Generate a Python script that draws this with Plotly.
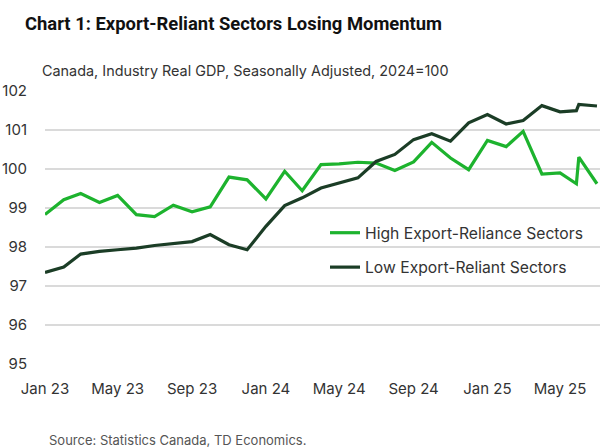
import plotly.graph_objects as go

# Monthly dates (plus one extra late-May observation visible in the chart)
dates = [
    "2023-01-01", "2023-02-01", "2023-03-01", "2023-04-01", "2023-05-01", "2023-06-01",
    "2023-07-01", "2023-08-01", "2023-09-01", "2023-10-01", "2023-11-01", "2023-12-01",
    "2024-01-01", "2024-02-01", "2024-03-01", "2024-04-01", "2024-05-01", "2024-06-01",
    "2024-07-01", "2024-08-01", "2024-09-01", "2024-10-01", "2024-11-01", "2024-12-01",
    "2025-01-01", "2025-02-01", "2025-03-01", "2025-04-01", "2025-05-01", "2025-05-28",
    "2025-06-01", "2025-07-01",
]

high_export = [
    98.83, 99.21, 99.37, 99.14, 99.32, 98.83,
    98.78, 99.07, 98.90, 99.03, 99.79, 99.72,
    99.23, 99.94, 99.44, 100.11, 100.13, 100.17,
    100.15, 99.96, 100.18, 100.68, 100.28, 99.98,
    100.73, 100.57, 100.96, 99.87, 99.90, 99.62,
    100.30, 99.62,
]

low_export = [
    97.35, 97.49, 97.82, 97.89, 97.93, 97.97,
    98.04, 98.08, 98.14, 98.32, 98.06, 97.93,
    98.53, 99.06, 99.26, 99.51, 99.64, 99.77,
    100.19, 100.37, 100.75, 100.90, 100.71, 101.18,
    101.39, 101.15, 101.24, 101.62, 101.46, 101.49,
    101.65, 101.61,
]

y_ticks = [95, 96, 97, 98, 99, 100, 101, 102]

title_text = "Chart 1: Export-Reliant Sectors Losing Momentum"
subtitle_text = "Canada, Industry Real GDP, Seasonally Adjusted, 2024=100"
source_text = "Source: Statistics Canada, TD Economics."

FONT = "Inter"

fig = go.Figure()
fig.add_trace(go.Scatter(
    x=dates, y=high_export, mode="lines", name="High Export-Reliance Sectors",
    line=dict(color="#1DB32E", width=3.2), legendgroup="a",
))
fig.add_trace(go.Scatter(
    x=dates, y=low_export, mode="lines", name="Low Export-Reliant Sectors",
    line=dict(color="#1B3D26", width=3.2), legendgroup="b",
))

fig.update_layout(
    width=600, height=448,
    margin=dict(l=45, r=0, t=90, b=83),
    paper_bgcolor="white", plot_bgcolor="white",
    font=dict(family=FONT, color="#333333", size=15),
    title=dict(text=f"<b>{title_text}</b>", x=25/600, xanchor="left",
               y=1 - 24/448, yanchor="middle", xref="container", yref="container",
               font=dict(family="Roboto", size=18.4, color="#111111")),
    showlegend=True,
    legend=dict(x=(325 - 45) / 555, y=(365 - 216) / 275, xanchor="left", yanchor="top",
                bgcolor="rgba(0,0,0,0)", font=dict(size=15.7, color="#333333"),
                tracegroupgap=11),
    xaxis=dict(
        type="date", range=["2023-01-01", "2025-07-06"],
        dtick="M4", tick0="2023-01-01", tickformat="%b %y",
        showgrid=False, zeroline=False, showline=False,
        ticks="outside", ticklen=10, tickcolor="rgba(0,0,0,0)",
        tickfont=dict(size=15, color="#333333"),
    ),
    yaxis=dict(
        range=[94.98, 102.02], tickvals=y_ticks,
        showgrid=True, gridcolor="#DADADA", gridwidth=1.5,
        zeroline=False, showline=False,
        ticks="outside", ticklen=14, tickcolor="rgba(0,0,0,0)",
        tickfont=dict(size=15, color="#333333"),
    ),
    annotations=[
        dict(text=subtitle_text, xref="paper", yref="paper",
             x=(40 - 45) / 555, y=1 + (90 - 70) / 275, xanchor="left", yanchor="middle",
             showarrow=False, font=dict(family=FONT, size=14.4, color="#333333")),
        dict(text=source_text, xref="paper", yref="paper",
             x=(47 - 45) / 555, y=(365 - 440) / 275, xanchor="left", yanchor="middle",
             showarrow=False, font=dict(family=FONT, size=13, color="#555555")),
    ],
)

fig.write_html("out.html", config={"displayModeBar": False},
               post_script="document.body.style.margin='0';document.body.style.padding='0';")
